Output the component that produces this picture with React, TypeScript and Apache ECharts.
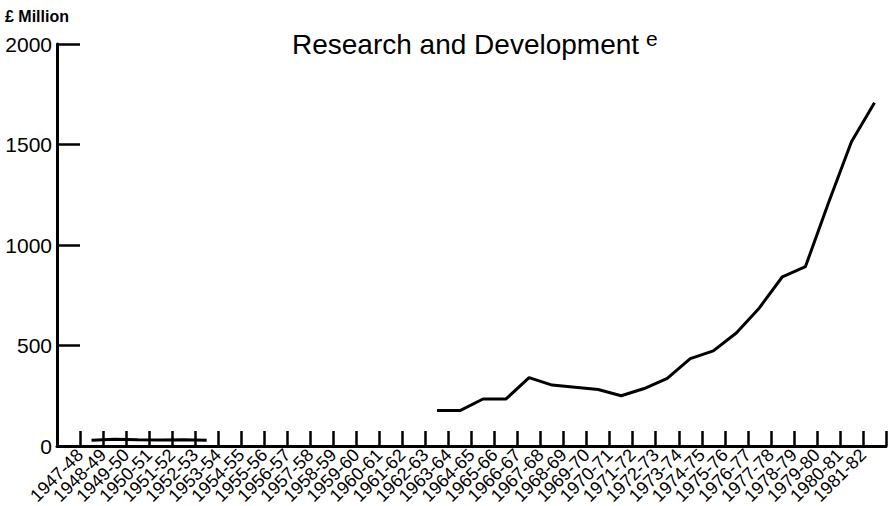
import React, { useEffect, useRef } from "react";
import * as echarts from "echarts";

// Financial years (category bands); each tick label marks the right edge of its band
const years = [
  "1947-48", "1948-49", "1949-50", "1950-51", "1951-52", "1952-53", "1953-54",
  "1954-55", "1955-56", "1956-57", "1957-58", "1958-59", "1959-60", "1960-61",
  "1961-62", "1962-63", "1963-64", "1964-65", "1965-66", "1966-67", "1967-68",
  "1968-69", "1969-70", "1970-71", "1971-72", "1972-73", "1973-74", "1974-75",
  "1975-76", "1976-77", "1977-78", "1978-79", "1979-80", "1980-81", "1981-82",
  "1982-83",
];

// Labels shown at band boundaries (first boundary and last boundary unlabeled)
const tickLabels = [
  "", "1947-48", "1948-49", "1949-50", "1950-51", "1951-52", "1952-53", "1953-54",
  "1954-55", "1955-56", "1956-57", "1957-58", "1958-59", "1959-60", "1960-61",
  "1961-62", "1962-63", "1963-64", "1964-65", "1965-66", "1966-67", "1967-68",
  "1968-69", "1969-70", "1970-71", "1971-72", "1972-73", "1973-74", "1974-75",
  "1975-76", "1976-77", "1977-78", "1978-79", "1979-80", "1980-81", "1981-82",
  "",
];

const yMin = 0;
const yMax = 2000;
const yStep = 500;

// £ million
const earlyStart = "1948-49";
const earlyValues = [28, 33, 31, 30, 31, 29];
const lateStart = "1963-64";
const lateValues = [
  176, 176, 234, 234, 340, 303, 292, 281, 250, 286,
  336, 435, 473, 562, 687, 842, 892, 1209, 1514, 1708,
];

const FONT = "'Liberation Sans', Arial, Helvetica, sans-serif";

function buildSeriesData(): (number | null)[] {
  const out: (number | null)[] = years.map(() => null);
  const e0 = years.indexOf(earlyStart);
  earlyValues.forEach((v, i) => (out[e0 + i] = v));
  const l0 = years.indexOf(lateStart);
  lateValues.forEach((v, i) => (out[l0 + i] = v));
  return out;
}

export default function App() {
  const ref = useRef<HTMLDivElement>(null);

  useEffect(() => {
    if (!ref.current) return;
    const chart = echarts.init(ref.current, undefined, { renderer: "svg" });
    chart.setOption({
      animation: false,
      backgroundColor: "#ffffff",
      title: {
        text: "Research and Development{sup|e}",
        left: 292,
        top: 28,
        padding: 0,
        textStyle: {
          fontFamily: FONT,
          fontSize: 28,
          fontWeight: "normal",
          color: "#000",
          lineHeight: 32,
          rich: {
            sup: {
              fontFamily: FONT,
              fontSize: 21,
              lineHeight: 16,
              verticalAlign: "top",
              color: "#000",
              padding: [0, 0, 0, 7],
            },
          },
        },
      },
      graphic: [
        {
          type: "text",
          left: 5,
          top: 8,
          style: {
            text: "£ Million",
            font: `bold 16px ${FONT}`,
            fill: "#000",
          },
        },
      ],
      grid: {
        left: 57,
        right: 8,
        top: 44,
        bottom: 60,
        containLabel: false,
        outerBoundsMode: "none",
      },
      xAxis: [
        {
          type: "category",
          data: years,
          boundaryGap: true,
          show: false,
          position: "bottom",
        },
        {
          type: "category",
          data: tickLabels,
          boundaryGap: false,
          position: "bottom",
          axisLine: { show: true, lineStyle: { color: "#000", width: 3 } },
          axisTick: {
            show: true,
            inside: true,
            length: 15,
            interval: 0,
            lineStyle: { color: "#000", width: 2.5 },
          },
          axisLabel: {
            interval: 0,
            rotate: 45,
            fontSize: 18,
            fontFamily: FONT,
            color: "#000",
            margin: 6,
            hideOverlap: false,
          },
          splitLine: { show: false },
        },
      ],
      yAxis: {
        type: "value",
        min: yMin,
        max: yMax,
        interval: yStep,
        axisLine: { show: true, lineStyle: { color: "#000", width: 3 } },
        axisTick: {
          show: true,
          inside: true,
          length: 23,
          lineStyle: { color: "#000", width: 2.5 },
        },
        axisLabel: {
          fontSize: 21,
          fontFamily: FONT,
          color: "#000",
          margin: 5,
          formatter: (v: number) => String(v),
        },
        splitLine: { show: false },
      },
      series: [
        {
          type: "line",
          xAxisIndex: 0,
          yAxisIndex: 0,
          data: buildSeriesData(),
          connectNulls: false,
          symbol: "none",
          silent: true,
          lineStyle: { color: "#000", width: 3 },
        },
      ],
    });
    return () => chart.dispose();
  }, []);

  return (
    <div
      ref={ref}
      style={{ position: "fixed", left: 0, top: 0, width: 894, height: 506, background: "#fff" }}
    />
  );
}
